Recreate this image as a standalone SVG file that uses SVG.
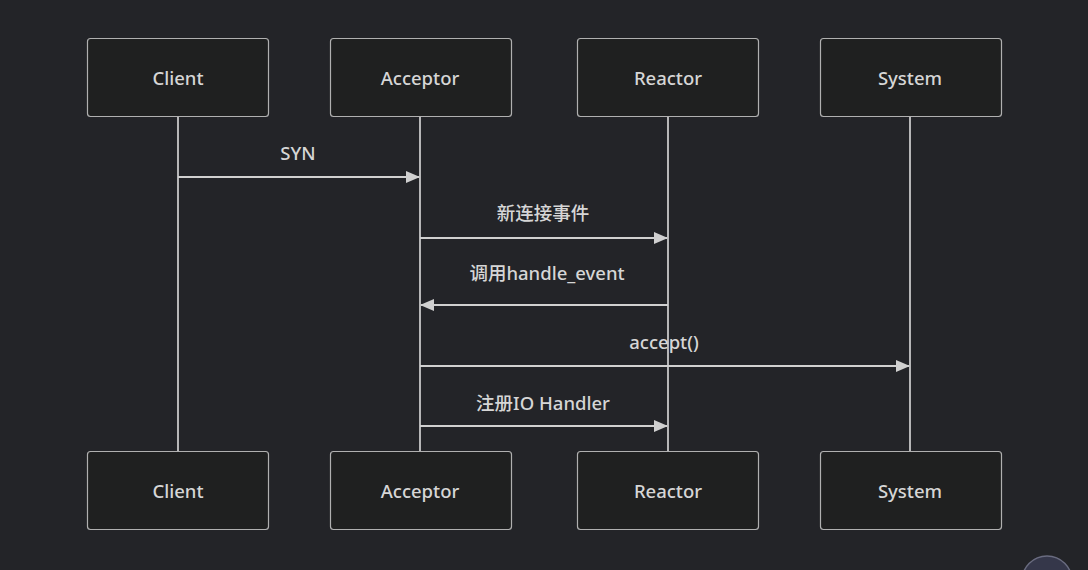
<svg xmlns="http://www.w3.org/2000/svg" width="1088" height="570" viewBox="0 0 1088 570">
<style>
.bg{fill:#232428}
.actor rect{fill:#1f2020;stroke:#b0b0b0;stroke-width:1.2}
.actor text{fill:#d6d6d6;font-family:"Noto Sans","Noto Sans CJK SC",sans-serif;font-size:18.5px;font-weight:500;text-anchor:middle;dominant-baseline:central}
.life{stroke:#c8c8c8;stroke-width:1.8}
.msg{stroke:#d0d0d0;stroke-width:1.8;fill:none}
.lbl{fill:#d6d6d6;font-family:"Noto Sans","Noto Sans CJK SC",sans-serif;font-size:18.5px;font-weight:500;text-anchor:middle;dominant-baseline:central}
</style>
<defs>
<marker id="ah" markerWidth="14" markerHeight="12" refX="13" refY="6" orient="auto" markerUnits="userSpaceOnUse">
<path d="M0,0 L14,6 L0,12 z" fill="#d0d0d0"/>
</marker>
</defs>
<rect class="bg" x="0" y="0" width="1088" height="570"/>
<g id="lifelines">
<line class="life" x1="178" y1="116" x2="178" y2="451"/>
<line class="life" x1="420" y1="116" x2="420" y2="451"/>
<line class="life" x1="668" y1="116" x2="668" y2="451"/>
<line class="life" x1="910" y1="116" x2="910" y2="451"/>
</g>
<g id="actor-client-top" class="actor"><rect x="87.5" y="38.5" width="181" height="78" rx="3"/><text x="178" y="77">Client</text></g>
<g id="actor-acceptor-top" class="actor"><rect x="330.5" y="38.5" width="181" height="78" rx="3"/><text x="420" y="77">Acceptor</text></g>
<g id="actor-reactor-top" class="actor"><rect x="577.5" y="38.5" width="181" height="78" rx="3"/><text x="668" y="77">Reactor</text></g>
<g id="actor-system-top" class="actor"><rect x="820.5" y="38.5" width="181" height="78" rx="3"/><text x="910" y="77">System</text></g>
<g id="actor-client-bottom" class="actor"><rect x="87.5" y="451.5" width="181" height="78" rx="3"/><text x="178" y="490">Client</text></g>
<g id="actor-acceptor-bottom" class="actor"><rect x="330.5" y="451.5" width="181" height="78" rx="3"/><text x="420" y="490">Acceptor</text></g>
<g id="actor-reactor-bottom" class="actor"><rect x="577.5" y="451.5" width="181" height="78" rx="3"/><text x="668" y="490">Reactor</text></g>
<g id="actor-system-bottom" class="actor"><rect x="820.5" y="451.5" width="181" height="78" rx="3"/><text x="910" y="490">System</text></g>
<g id="connectors">
<line class="msg" x1="178" y1="177" x2="419" y2="177" marker-end="url(#ah)"/>
<text class="lbl" x="298" y="152">SYN</text>
<line class="msg" x1="420" y1="238" x2="667" y2="238" marker-end="url(#ah)"/>
<text class="lbl" x="543" y="212">新连接事件</text>
<line class="msg" x1="668" y1="305" x2="421" y2="305" marker-end="url(#ah)"/>
<text class="lbl" x="547" y="272">调用handle_event</text>
<line class="msg" x1="420" y1="366" x2="909" y2="366" marker-end="url(#ah)"/>
<text class="lbl" x="664" y="341">accept()</text>
<line class="msg" x1="420" y1="426" x2="667" y2="426" marker-end="url(#ah)"/>
<text class="lbl" x="543" y="402">注册IO Handler</text>
</g>
<circle cx="1047" cy="581" r="25" fill="#35374a" stroke="#6a6c80" stroke-width="1.5"/>
</svg>
